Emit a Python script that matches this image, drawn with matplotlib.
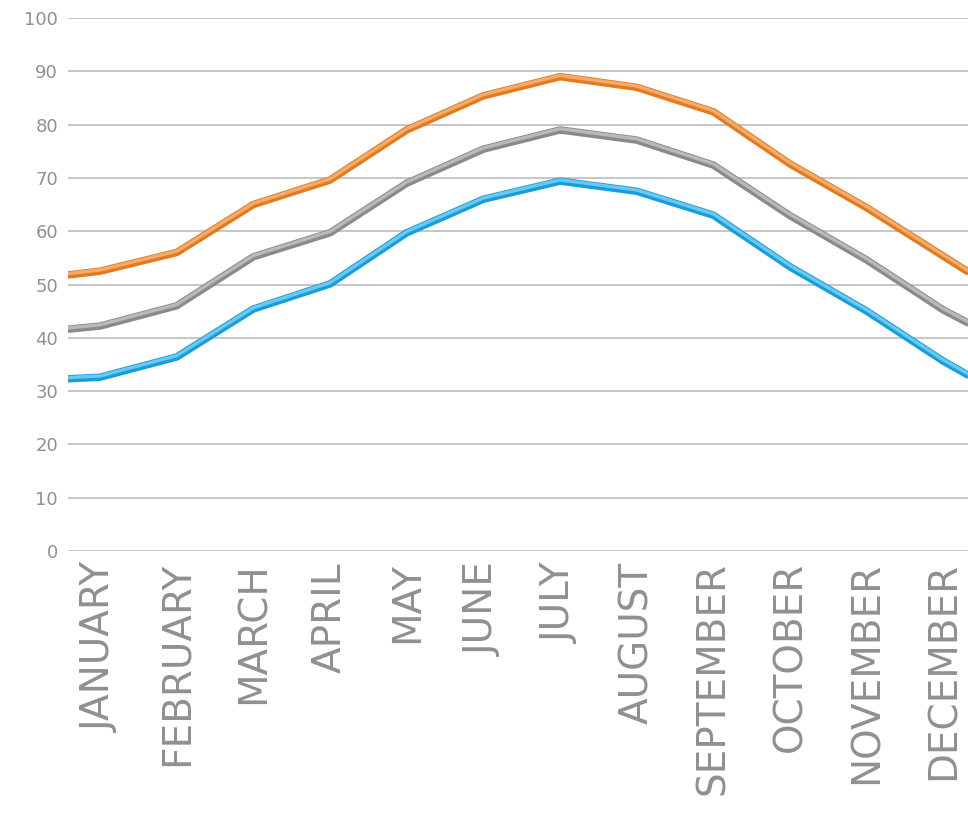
import matplotlib.pyplot as plt
import matplotlib.patheffects as pe
import numpy as np

# months shown on the x axis
months = ["JANUARY", "FEBRUARY", "MARCH", "APRIL", "MAY", "JUNE",
          "JULY", "AUGUST", "SEPTEMBER", "OCTOBER", "NOVEMBER", "DECEMBER"]

# values (Jan..Dec)
high = [52.5, 56.0, 65.0, 69.6, 79.0, 85.4, 89.0, 87.0, 82.4, 72.6, 64.4, 55.3]
mean = [42.2, 46.0, 55.2, 59.7, 69.0, 75.4, 79.0, 77.1, 72.4, 62.9, 54.6, 45.2]
low = [32.6, 36.4, 45.4, 50.1, 59.7, 66.0, 69.4, 67.5, 63.0, 53.3, 45.0, 35.6]

# the lines run on past the first and last month (cut by the frame)
lead = [50.8, 40.8, 31.9]
trail = [46.2, 37.7, 27.5]

yticks = list(range(0, 101, 10))

fig = plt.figure(figsize=(9.68, 8.39), dpi=100)
ax = fig.add_axes([0.070, 0.3433, 0.930, 0.6352])

x = np.arange(-1, 13)
series = [high, mean, low]
colors = ["#E47A1C", "#8A8A8B", "#159FDA"]
lights = ["#F2AD6E", "#B9B9B9", "#6CC8F0"]

for vals, a, b, c, l in zip(series, lead, trail, colors, lights):
    y = [a] + vals + [b]
    ax.plot(x, y, color=c, linewidth=5.4, solid_joinstyle="round",
            solid_capstyle="butt", zorder=3,
            path_effects=[pe.Normal(),
                          pe.Stroke(linewidth=2.4, foreground=l, offset=(0, 0.9))])

ax.set_xlim(-0.42, 11.32)
ax.set_ylim(0, 100)
ax.set_yticks(yticks)
ax.set_yticklabels([str(t) for t in yticks])
ax.set_xticks(range(len(months)))
ax.set_xticklabels(months, rotation=90, va="top", ha="center")

ax.grid(axis="y", color="#C2C2C2", linewidth=1.3, zorder=0)
ax.set_axisbelow(True)
for s in ax.spines.values():
    s.set_visible(False)

ax.tick_params(axis="y", length=0, pad=7, labelsize=13, labelcolor="#909094")
ax.tick_params(axis="x", length=0, pad=8, labelsize=28, labelcolor="#909094")

fig.savefig("out.png", dpi=100)
